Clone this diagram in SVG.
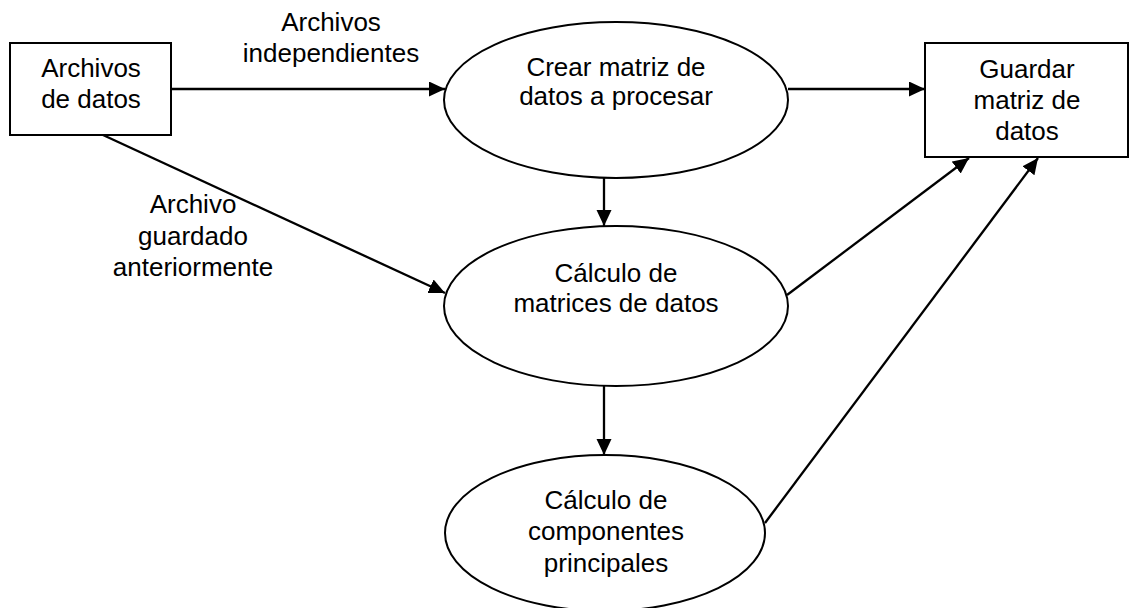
<svg xmlns="http://www.w3.org/2000/svg" width="1129" height="608" viewBox="0 0 1129 608">
<style>
  .shape { fill: #ffffff; stroke: #000000; stroke-width: 2; }
  .edge { fill: none; stroke: #000000; stroke-width: 2.3; marker-end: url(#arrow); }
  text { font-family: "Liberation Sans", Arial, sans-serif; font-size: 26px; fill: #000000; text-anchor: middle; }
</style>
<defs>
  <marker id="arrow" markerUnits="userSpaceOnUse" markerWidth="18" markerHeight="16" refX="16" refY="7.5" orient="auto">
    <path d="M0,0 L16,7.5 L0,15 z" fill="#000000"/>
  </marker>
</defs>
<rect width="1129" height="608" fill="#ffffff"/>

<g id="connectors">
  <line class="edge" x1="171" y1="89" x2="445" y2="89"/>
  <line class="edge" x1="103" y1="135" x2="445" y2="293"/>
  <line class="edge" x1="788" y1="89" x2="925" y2="89"/>
  <line class="edge" x1="604" y1="178" x2="604" y2="226"/>
  <line class="edge" x1="604" y1="386" x2="604" y2="455"/>
  <line class="edge" x1="787" y1="295" x2="969" y2="158"/>
  <line class="edge" x1="765" y1="523" x2="1038" y2="158"/>
  <text x="331" y="31">Archivos</text>
  <text x="331" y="62">independientes</text>
  <text x="193" y="213">Archivo</text>
  <text x="193" y="245">guardado</text>
  <text x="193" y="276">anteriormente</text>
</g>

<g id="archivos-datos">
  <rect class="shape" x="10" y="43" width="161" height="92"/>
  <text x="91" y="77">Archivos</text>
  <text x="91" y="108">de datos</text>
</g>

<g id="crear-matriz">
  <ellipse class="shape" cx="616" cy="100" rx="172" ry="78"/>
  <text x="616" y="76">Crear matriz de</text>
  <text x="616" y="105">datos a procesar</text>
</g>

<g id="calculo-matrices">
  <ellipse class="shape" cx="616" cy="306" rx="172" ry="80"/>
  <text x="616" y="282">Cálculo de</text>
  <text x="616" y="312">matrices de datos</text>
</g>

<g id="calculo-componentes">
  <ellipse class="shape" cx="605" cy="533" rx="160" ry="78"/>
  <text x="606" y="509">Cálculo de</text>
  <text x="606" y="540">componentes</text>
  <text x="606" y="572">principales</text>
</g>

<g id="guardar-matriz">
  <rect class="shape" x="925" y="43" width="203" height="114"/>
  <text x="1027" y="78">Guardar</text>
  <text x="1027" y="109">matriz de</text>
  <text x="1027" y="140">datos</text>
</g>
</svg>
